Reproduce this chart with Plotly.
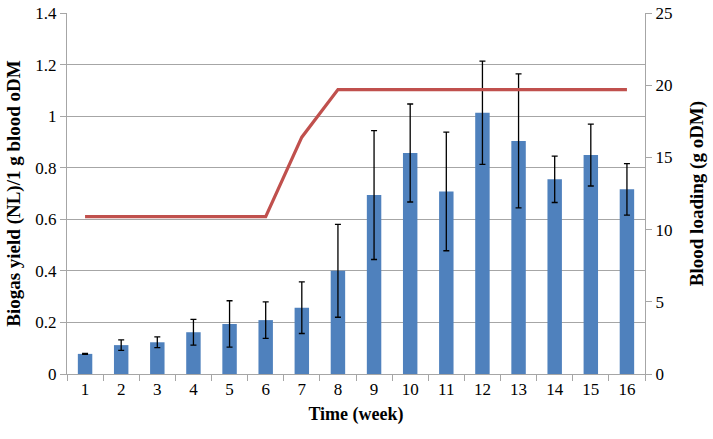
import plotly.graph_objects as go

weeks = [str(i) for i in range(1, 17)]
biogas_yield = [0.078, 0.112, 0.123, 0.162, 0.194, 0.209, 0.257, 0.400, 0.694,
                0.857, 0.708, 1.013, 0.904, 0.755, 0.849, 0.716]
yield_err = [0.002, 0.020, 0.021, 0.050, 0.090, 0.071, 0.100, 0.180, 0.250,
             0.190, 0.230, 0.200, 0.260, 0.090, 0.120, 0.100]
blood_loading = [10.9, 10.9, 10.9, 10.9, 10.9, 10.9, 16.4, 19.7, 19.7,
                 19.7, 19.7, 19.7, 19.7, 19.7, 19.7, 19.7]

left_ticks = [0, 0.2, 0.4, 0.6, 0.8, 1.0, 1.2, 1.4]
left_tick_text = ["0", "0.2", "0.4", "0.6", "0.8", "1", "1.2", "1.4"]
right_ticks = [0, 5, 10, 15, 20, 25]

FONT = "Times New Roman, Liberation Serif, serif"
GRID = "#A6A6A6"

fig = go.Figure()
fig.add_trace(go.Bar(
    x=weeks, y=biogas_yield,
    marker=dict(color="#4F81BD", line=dict(width=0)),
    error_y=dict(type="data", array=yield_err, visible=True,
                 color="black", thickness=1.3, width=3),
    showlegend=False,
))
fig.add_trace(go.Scatter(
    x=weeks, y=blood_loading, yaxis="y2", mode="lines",
    line=dict(color="#C0504D", width=3.2), showlegend=False,
))

fig.update_layout(
    width=713, height=439,
    margin=dict(l=67, r=68, t=13, b=65, autoexpand=False),
    plot_bgcolor="white", paper_bgcolor="white",
    bargap=0.6,
    font=dict(family=FONT, size=17, color="black"),
    xaxis=dict(
        type="category", tickson="boundaries", ticks="outside", ticklen=6,
        tickcolor=GRID, showline=True, linecolor=GRID, linewidth=1,
        showgrid=False, automargin=False, ticklabeloverflow="allow",
        tickfont=dict(family=FONT, size=17),
        title=dict(text="<b>Time (week)</b>", font=dict(family=FONT, size=18), standoff=8),
    ),
    yaxis=dict(
        range=[0, 1.4], tickvals=left_ticks, ticktext=left_tick_text,
        ticks="outside", ticklen=6, tickcolor=GRID,
        showline=True, linecolor=GRID, linewidth=1, automargin=False,
        showgrid=True, gridcolor=GRID, gridwidth=1, zeroline=False,
        ticklabeloverflow="allow",
        tickfont=dict(family=FONT, size=17),
        title=dict(text="<b>Biogas yield (NL)/1 g blood oDM</b>",
                   font=dict(family=FONT, size=19), standoff=9),
    ),
    yaxis2=dict(
        overlaying="y", side="right", range=[0, 25], tickvals=right_ticks,
        ticks="outside", ticklen=6, tickcolor=GRID,
        showline=True, linecolor=GRID, linewidth=1, automargin=False,
        showgrid=False, zeroline=False, ticklabeloverflow="allow",
        tickfont=dict(family=FONT, size=17),
        title=dict(text="<b>Blood loading (g oDM)</b>",
                   font=dict(family=FONT, size=19), standoff=18),
    ),
)

fig.write_html("out.html",
               config={"displayModeBar": False},
               post_script="document.body.style.margin='0px';document.body.style.overflow='hidden';")
